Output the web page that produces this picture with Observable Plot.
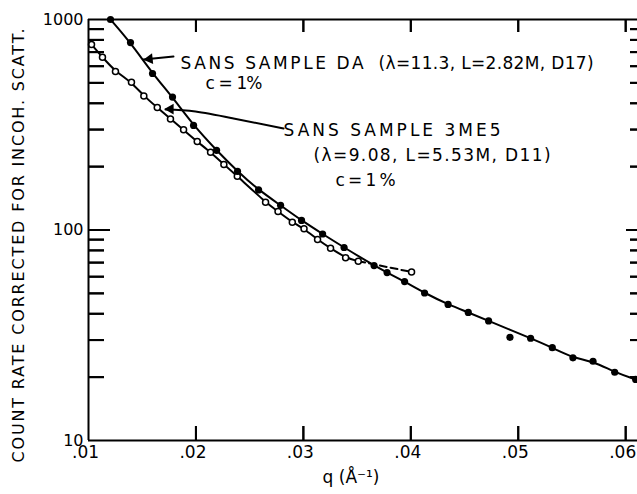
<!DOCTYPE html>
<html><head><meta charset="utf-8">
<script src="https://cdn.jsdelivr.net/npm/d3@7"></script>
<script src="https://cdn.jsdelivr.net/npm/@observablehq/plot@0.6"></script>
<style>
html,body{margin:0;padding:0;background:#fff;overflow:hidden;}
</style>
</head><body><div id="chart"></div>
<script>
// SANS sample DA (filled circles)
const daQ = [0.01205,0.01391,0.01596,0.01782,0.01978,0.02192,0.02387,0.02583,0.02788,0.02983,0.03179,0.03379,0.03658,0.03779,0.03942,0.04128,0.04347,0.04535,0.04724,0.05115,0.05317,0.05509,0.05696,0.05898,0.06093];
const daV = [1000,777,554,428,314,239,190,155,131,111,95.7,82.6,67.8,62.8,56.9,50.2,44.3,40.6,37.0,30.6,27.6,24.7,23.8,21.1,19.5];
// off-curve DA point
const daStrayQ = [0.04923];
const daStrayV = [30.9];
// SANS sample 3ME5 (open circles)
const meQ = [0.01028,0.0113,0.01251,0.014,0.01515,0.0164,0.01763,0.01885,0.02012,0.02136,0.0226,0.02385,0.02648,0.02764,0.02897,0.03006,0.03132,0.03253,0.03393,0.03511];
const meV = [761,662,566,504,433,382,337,299,263,234,205,180,135.6,122.4,108.9,101.3,90.1,81.9,73.8,71.1];
// dashed extension end point
const meEndQ = [0.04007];
const meEndV = [63.2];

// ticks
const xTicks = [0.01,0.02,0.03,0.04,0.05,0.06];
const yMajor = [10,100,1000];
const yMinor = [20,30,40,50,60,70,80,90,200,300,400,500,600,700,800,900];

// annotations (data coordinates)
const annText = ["SANS SAMPLE DA","(λ=11.3, L=2.82M, D17)","c = 1%","SANS SAMPLE 3ME5","(λ=9.08, L=5.53M, D11)","c = 1 %"];
const annQ = [0.01857,0.0370,0.02089,0.028157,0.03095,0.0330];
const annV = [618,618,497,297,226,172];
const daLeaderQ = [0.01791,0.01512];
const daLeaderV = [667,646];
const daTipQ = [0.01568]; const daTipV = [649];
const meLeaderQ = [0.028157,0.0235,0.01996,0.01717];
const meLeaderV = [303.5,338.7,365.5,373.6];
const meTipQ = [0.017635]; const meTipV = [375.6];

const yTitle = "COUNT RATE CORRECTED FOR INCOH. SCATT.";
const xTitle = "q (Å⁻¹)";

// layout / style
const W = 637, H = 494, ML = 88, MR = 0, MT = 19, MB = 54;
const FW = W - ML - MR, FH = H - MT - MB;
const tickLen = {leftMinor: 16, leftMajor: 22, rightMinor: 7, rightMajor: 11, bottom: 14, top: 13};
const textWidths = {
  "SANS SAMPLE DA":183, "(λ=11.3, L=2.82M, D17)":215, "c = 1%":57,
  "SANS SAMPLE 3ME5":217, "(λ=9.08, L=5.53M, D11)":237, "c = 1 %":60,
  [yTitle]:434
};

const zip = (qs, vs) => qs.map((q,i) => ({q, v: vs[i]}));
const da = zip(daQ, daV);
const daStray = zip(daStrayQ, daStrayV);
const me = zip(meQ, meV);
const meEnd = zip(meEndQ, meEndV);
const ann = annText.map((t,i) => ({t, q: annQ[i], v: annV[i]}));
const fmtX = d => d.toFixed(2).replace(/^0/, "");

const plot = Plot.plot({
  width: W, height: H,
  marginLeft: ML, marginRight: MR, marginTop: MT, marginBottom: MB,
  style: {fontFamily: "DejaVu Sans", fontSize: "16px", color: "black", background: "white"},
  x: {domain: [0.01, 0.0611], axis: null},
  y: {type: "log", domain: [10, 1000], axis: null},
  marks: [
    Plot.axisY(yMajor, {anchor: "left", tickSize: 0, tickPadding: 5, tickFormat: d => String(d), fontSize: 16, label: null}),
    Plot.axisX(xTicks, {anchor: "bottom", tickSize: 0, tickPadding: 5, tickFormat: fmtX, dx: -3, fontSize: 17, label: null}),
    Plot.text([yTitle], {frameAnchor: "left", rotate: -90, dx: -70, dy: 15.5, fontSize: 16}),
    Plot.text([xTitle], {frameAnchor: "bottom", dy: 42, dx: -12, fontSize: 17}),
    // curves
    Plot.line(da, {x: "q", y: "v", curve: "basis", strokeWidth: 2, clip: true}),
    Plot.line(me, {x: "q", y: "v", curve: "basis", strokeWidth: 2, clip: true}),
    Plot.line([me[me.length-1], ...meEnd], {x: "q", y: "v", strokeWidth: 2, strokeDasharray: "7,4"}),
    Plot.dot([...me, ...meEnd], {x: "q", y: "v", r: 3, fill: "white", stroke: "black", strokeWidth: 1.5}),
    Plot.dot([...da, ...daStray], {x: "q", y: "v", r: 3.6, fill: "black"}),
    // leaders
    Plot.line(zip(daLeaderQ, daLeaderV), {x: "q", y: "v", strokeWidth: 2}),
    Plot.dot(zip(daTipQ, daTipV), {x: "q", y: "v", symbol: "triangle", r: 4, rotate: 264, fill: "black"}),
    Plot.line(zip(meLeaderQ, meLeaderV), {x: "q", y: "v", curve: "natural", strokeWidth: 2}),
    Plot.dot(zip(meTipQ, meTipV), {x: "q", y: "v", symbol: "triangle", r: 4, rotate: 270, fill: "black"}),
    Plot.text(ann, {x: "q", y: "v", text: "t", textAnchor: "start", fontSize: 17}),
    // frame (left, bottom, top)
    Plot.ruleX([0.01], {strokeWidth: 2}),
    Plot.ruleY([10], {strokeWidth: 2}),
    Plot.ruleY([1000], {strokeWidth: 2}),
    // inward ticks
    Plot.ruleY(yMinor, {y: d => d, insetRight: FW - tickLen.leftMinor, strokeWidth: 2}),
    Plot.ruleY([100], {y: d => d, insetRight: FW - tickLen.leftMajor, strokeWidth: 2}),
    Plot.ruleY(yMinor, {y: d => d, insetLeft: FW - tickLen.rightMinor, strokeWidth: 2}),
    Plot.ruleY([100], {y: d => d, insetLeft: FW - tickLen.rightMajor, strokeWidth: 2}),
    Plot.ruleX(xTicks.slice(1), {x: d => d, insetTop: FH - tickLen.bottom, strokeWidth: 2}),
    Plot.ruleX(xTicks.slice(1), {x: d => d, insetBottom: FH - tickLen.top, strokeWidth: 2})
  ]
});

document.getElementById("chart").appendChild(plot);

// fit annotation text widths
plot.querySelectorAll("text").forEach(function(el) {
  const t = el.textContent;
  if (textWidths[t]) {
    el.setAttribute("textLength", textWidths[t]);
    el.setAttribute("lengthAdjust", "spacing");
    if (t === yTitle) {
      el.setAttribute("text-anchor", "start");
      el.setAttribute("x", -textWidths[t] / 2);
    }
  }
});

// inward ticks again, placed through the plot's own scales (safety layer)
const sx = plot.scale("x"), sy = plot.scale("y");
const g = d3.select(plot).append("g").attr("stroke", "black").attr("stroke-width", 2).attr("fill", "none");
const x0 = sx.apply(0.01), x1 = sx.apply(0.0611), y0 = sy.apply(10), y1 = sy.apply(1000);
const hTick = (v, xa, xb) => g.append("line").attr("x1", xa).attr("x2", xb).attr("y1", sy.apply(v) + 0.5).attr("y2", sy.apply(v) + 0.5);
const vTick = (q, ya, yb) => g.append("line").attr("x1", sx.apply(q) + 0.5).attr("x2", sx.apply(q) + 0.5).attr("y1", ya).attr("y2", yb);
yMinor.forEach(v => { hTick(v, x0, x0 + tickLen.leftMinor); hTick(v, x1 - tickLen.rightMinor, x1); });
hTick(100, x0, x0 + tickLen.leftMajor); hTick(100, x1 - tickLen.rightMajor, x1);
xTicks.slice(1).forEach(q => { vTick(q, y0 - tickLen.bottom, y0); vTick(q, y1, y1 + tickLen.top); });
</script>
</body></html>
